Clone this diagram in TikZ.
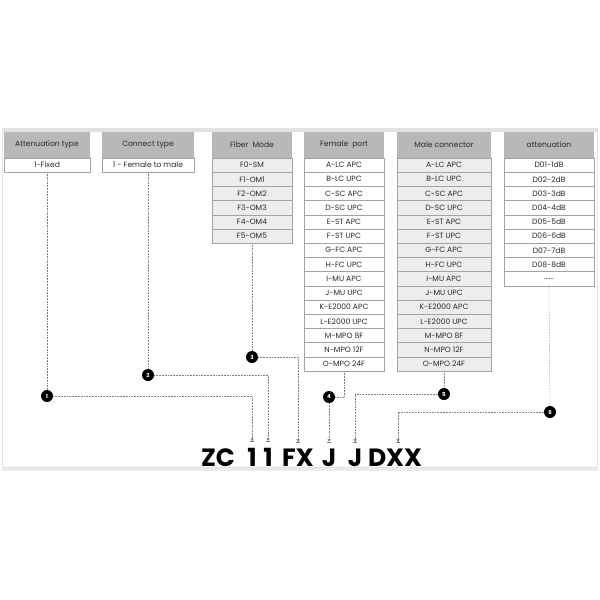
\documentclass[tikz,border=0pt]{standalone}
\usepackage{fontspec}
\setmainfont{Poppins}
\usetikzlibrary{arrows.meta}

\definecolor{headgray}{HTML}{B8B8B8}
\definecolor{cellline}{HTML}{A3A3A3}
\definecolor{rowgray}{HTML}{EDEDED}
\definecolor{linkgray}{HTML}{808080}
\definecolor{framegray}{HTML}{E2E2E2}
\definecolor{textgray}{HTML}{2A2A2A}

\def\rowh{14.2}
\def\rowtop{150.9}

\begin{document}
\begin{tikzpicture}[x=1pt, y=-1pt,
  nodes = {inner sep=0pt, outer sep=0pt},
  head/.style = {fill=headgray, minimum height=26, text=textgray,
    font=\fontsize{7.6}{8}\selectfont},
  cell/.style = {draw=cellline, line width=0.6pt, fill=white,
    minimum height=\rowh, text=textgray, font=\fontsize{7.6}{8}\selectfont},
  num/.style = {circle, fill=black, text=white, minimum size=12,
    font=\bfseries\fontsize{5.5}{6}\selectfont},
  code/.style = {anchor=base, font=\bfseries\fontsize{25}{25}\selectfont},
  link/.style = {draw=linkgray, densely dotted, line width=0.55pt},
  pick/.style = {link, shorten >=6pt,
    -{Latex[length=2.6pt,width=3.4pt]Bar[width=4pt,line width=0.8pt]}}]
  \useasboundingbox (0,0) rectangle (600,600);

  % frame round the chart
  \fill[framegray] (2,128) rectangle (598,132);
  \draw[framegray, line width=1.2pt] (2.6,130) -- (2.6,467.5) -- (597.4,467.5) -- (597.4,130);
  \fill[framegray!70] (2,468) rectangle (598,471);

  % 1 attenuation type
  \node[head, minimum width=86] (at) at (47,145) {Attenuation type};
  \node[cell, minimum width=86] (at1) at (47,{\rowtop+\rowh}) {1-Fixed};

  % 2 connect type
  \node[head, minimum width=92] (ct) at (148,145) {Connect type};
  \node[cell, minimum width=92] (ct1) at (148,{\rowtop+\rowh}) {1 - Female to male};

  % 3 fiber mode
  \node[head, minimum width=80] (fm) at (252,145) {Fiber\ \ Mode};
  \foreach \txt [count=\i] in {F0-SM,F1-OM1,F2-OM2,F3-OM3,F4-OM4,F5-OM5}
    \node[cell, fill=rowgray, minimum width=80] (fm\i) at (252,{\rowtop+\i*\rowh}) {\txt};

  % 4 female port
  \node[head, minimum width=80] (fp) at (344,145) {Female\ \ port};
  \foreach \txt [count=\i] in {A-LC APC,B-LC UPC,C-SC APC,D-SC UPC,E-ST APC,
      F-ST UPC,G-FC APC,H-FC UPC,I-MU APC,J-MU UPC,K-E2000 APC,L-E2000 UPC,
      M-MPO 8F,N-MPO 12F,O-MPO 24F}
    \node[cell, minimum width=80] (fp\i) at (344,{\rowtop+\i*\rowh}) {\txt};

  % 5 male connector
  \node[head, minimum width=94] (mc) at (444,145) {Male connector};
  \foreach \txt [count=\i] in {A-LC APC,B-LC UPC,C-SC APC,D-SC UPC,E-ST APC,
      F-ST UPC,G-FC APC,H-FC UPC,I-MU APC,J-MU UPC,K-E2000 APC,L-E2000 UPC,
      M-MPO 8F,N-MPO 12F,O-MPO 24F}
    \node[cell, fill=rowgray, minimum width=94] (mc\i) at (444,{\rowtop+\i*\rowh}) {\txt};

  % 6 attenuation
  \node[head, minimum width=90] (db) at (549,145) {attenuation};
  \foreach \txt [count=\i] in {D01-1dB,D02-2dB,D03-3dB,D04-4dB,D05-5dB,
      D06-6dB,D07-7dB,D08-8dB}
    \node[cell, minimum width=90] (db\i) at (549,{\rowtop+\i*\rowh}) {\txt};
  \node[cell, minimum width=90] (db9) at (549,{\rowtop+9*\rowh}) {......};

  % numbered dots
  \node[num] (n1) at (47,396) {1};
  \node[num] (n2) at (148,375) {2};
  \node[num] (n3) at (252,357) {3};
  \node[num] (n4) at (329,397) {4};
  \node[num] (n5) at (444,394) {5};
  \node[num] (n6) at (550,412) {6};

  % the code
  \node[code] (zc) at (218,466) {ZC};
  \node[code] (c1) at (252,466) {1};
  \node[code] (c2) at (268,466) {1};
  \node[code] (c3) at (298,466) {FX};
  \node[code] (c4) at (329,466) {J};
  \node[code] (c5) at (355,466) {J};
  \node[code] (c6) at (395,466) {DXX};

  % tables down to the dots
  \draw[link] (at1.south) -- (n1);
  \draw[link] (ct1.south) -- (n2);
  \draw[link] (fm6.south) -- (n3);
  \draw[link] (fp15.south) |- (n4);
  \draw[link] (mc15.south) -- (n5);
  \draw[link] (db9.south) -- (n6);

  % dots down to the code
  \draw[pick] (n1) -| (c1.north);
  \draw[pick] (n2) -| (c2.north);
  \draw[pick] (n3) -| (c3.north);
  \draw[pick] (n4) -- (c4.north);
  \draw[pick] (n5) -| (c5.north);
  \draw[pick] (n6) -| ([xshift=3pt]c6.north);
\end{tikzpicture}
\end{document}
